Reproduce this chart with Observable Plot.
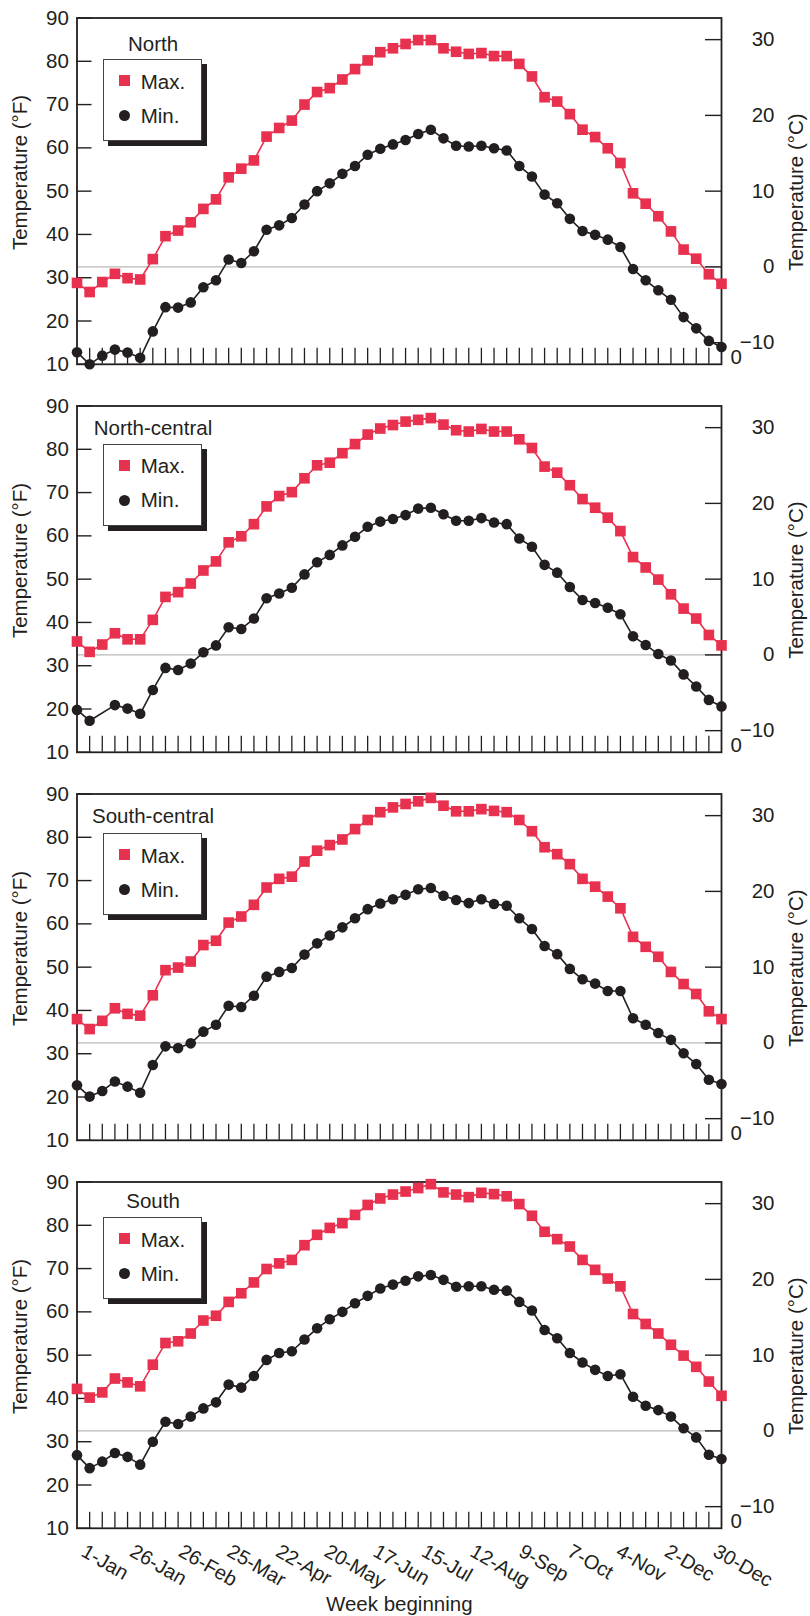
<!DOCTYPE html>
<html>
<head>
<meta charset="utf-8">
<script src="https://cdn.jsdelivr.net/npm/d3@7"></script>
<script src="https://cdn.jsdelivr.net/npm/@observablehq/plot@0.6"></script>
<style>
  body { margin: 0; background: #fff; }
  #chart { position: relative; width: 810px; height: 1616px; font-family: "Liberation Sans", Arial, sans-serif; color: #231f20; overflow: hidden; }
  .panel { position: absolute; left: 0; width: 810px; }
  .panel svg { display: block; }
  .legend { position: absolute; left: 102.7px; width: 97.3px; height: 80px; border: 1px solid #444; background: #fff; box-shadow: 5px 5px 0 0 #231f20; font-size: 20.5px; line-height: 20.5px; }
  .legend .sym { position: absolute; left: 15.8px; width: 11px; height: 11px; }
  .legend .sq { top: 15.2px; background: #e8304f; }
  .legend .ci { top: 50.2px; background: #231f20; border-radius: 50%; }
  .legend .lab { position: absolute; left: 37px; white-space: nowrap; }
</style>
</head>
<body>
<div id="chart"></div>
<script>
// ---------- data ----------
const regions = ["North", "North-central", "South-central", "South"];
const weekLabels = ["1-Jan","26-Jan","26-Feb","25-Mar","22-Apr","20-May","17-Jun","15-Jul","12-Aug","9-Sep","7-Oct","4-Nov","2-Dec","30-Dec"];
const fTicks = [10, 20, 30, 40, 50, 60, 70, 80, 90];
const cTicks = [-10, 0, 10, 20, 30];

const northMax = [28.8,26.7,29.0,30.9,29.9,29.6,34.3,39.6,40.9,42.8,45.9,48.1,53.2,55.2,57.1,62.6,64.6,66.3,70.0,72.9,73.8,75.8,78.2,80.2,82.1,83.0,84.0,84.9,84.9,83.0,82.2,81.7,81.9,81.2,81.2,79.4,76.5,71.7,70.7,67.8,64.2,62.5,59.9,56.5,49.5,47.1,44.2,40.7,36.5,34.4,30.8,28.6];
const northMin = [12.8,10.0,12.0,13.4,12.7,11.5,17.6,23.2,23.1,24.3,27.8,29.4,34.2,33.4,36.1,41.1,42.1,43.8,46.9,50.0,51.8,54.0,55.8,58.4,59.8,60.8,61.8,63.2,64.2,62.2,60.5,60.3,60.5,59.9,59.4,55.8,53.4,49.2,47.2,43.6,40.8,39.9,38.8,37.1,32.0,29.4,27.1,24.9,20.9,18.3,15.4,14.0];
const northCentralMax = [35.6,33.2,34.9,37.5,36.1,36.1,40.6,45.9,47.0,49.0,52.0,54.1,58.5,59.9,62.7,66.8,69.2,70.1,73.3,76.3,76.9,79.1,81.2,83.4,84.8,85.6,86.4,86.8,87.2,85.7,84.4,84.1,84.7,84.1,84.1,82.3,80.3,76.0,74.6,71.7,68.5,66.5,64.2,61.1,55.1,52.7,49.9,46.5,43.2,40.9,37.1,34.7];
const northCentralMin = [19.8,17.3,null,20.9,20.1,18.9,24.4,29.5,29.0,30.5,33.1,34.7,38.9,38.5,40.9,45.6,46.7,48.0,51.1,53.9,55.6,57.8,59.8,62.1,63.3,63.9,64.8,66.3,66.5,65.0,63.5,63.5,64.1,63.1,62.7,59.4,57.5,53.3,51.5,48.2,45.2,44.5,43.4,41.9,36.8,34.8,32.7,31.2,28.0,25.2,22.1,20.6];
const southCentralMax = [38.0,35.7,37.6,40.5,39.2,38.8,43.5,49.3,49.9,51.3,55.1,56.1,60.3,61.7,64.4,68.4,70.4,70.9,74.4,76.9,78.2,79.5,81.9,84.0,85.8,86.9,87.7,88.3,89.1,87.3,86.0,86.0,86.5,86.1,85.8,84.0,81.4,77.7,76.1,73.8,70.4,68.6,66.3,63.6,57.0,54.7,52.4,48.9,46.1,43.8,39.8,38.0];
const southCentralMin = [22.7,20.1,21.4,23.6,22.4,21.0,27.4,31.7,31.3,32.4,35.1,36.7,41.1,40.8,43.4,47.8,48.9,49.8,52.9,55.5,57.3,59.2,61.3,63.4,64.7,65.7,66.7,68.0,68.3,66.5,65.5,64.8,65.7,64.6,64.2,61.3,58.8,54.9,53.0,49.6,47.2,46.2,44.5,44.5,38.2,36.7,34.8,33.2,30.1,27.6,24.0,23.0];
const southMax = [42.2,40.2,41.4,44.6,43.7,42.8,47.8,52.8,53.2,55.0,58.0,59.1,62.3,64.3,66.8,69.9,71.2,72.0,75.4,77.8,79.4,80.5,82.4,84.7,86.2,87.1,87.8,88.6,89.5,87.6,87.1,86.5,87.5,87.2,86.7,84.9,82.2,78.5,76.8,75.1,72.0,69.7,67.7,65.9,59.5,57.2,55.0,52.4,49.9,47.3,43.9,40.6];
const southMin = [26.9,23.9,25.4,27.4,26.5,24.7,30.0,34.6,34.1,35.8,37.7,39.1,43.2,42.5,45.2,48.9,50.5,50.9,53.6,56.2,58.3,60.0,62.0,63.7,65.4,66.3,67.2,68.2,68.5,67.4,65.8,65.9,65.9,65.1,64.9,62.3,60.3,55.8,53.9,50.5,48.3,46.6,45.2,45.6,40.4,38.3,37.3,35.8,33.1,31.0,27.0,26.0];

const maxSeries = [northMax, northCentralMax, southCentralMax, southMax];
const minSeries = [northMin, northCentralMin, southCentralMin, southMin];

// ---------- layout / style ----------
const RED = "#e8304f", INK = "#231f20";
const W = 810, ML = 76.5, MR = 89, MT = 17.5, IH = 346.3, PITCH = 388;
const IW = W - ML - MR;
const titleDy = [32.5, 28.7, 29, 25.7];
const legendTop = [41.5, 38, 39.4, 35.7];
// °C scale as drawn in the reference (0 °C line and tick spacing)
const cToF = c => 32.5 + 1.75 * c;
const cLabel = new Map(cTicks.map(c => [cToF(c), c < 0 ? "\u2212" + (-c) : String(c)]));
const innerWeeks = d3.range(1, 51);

const chart = document.getElementById("chart");

regions.forEach((name, p) => {
  const last = p === regions.length - 1;
  const H = last ? 1616 - 3 * PITCH : PITCH;
  const toRows = arr => arr.map((v, i) => ({i, v})).filter(d => d.v != null);
  const maxD = toRows(maxSeries[p]);
  const minD = toRows(minSeries[p]);

  const marks = [
    Plot.ruleY([cToF(0)], {stroke: "#b8b8b8", strokeWidth: 1.1}),
    Plot.tickY(fTicks, {y: d => d, insetRight: IW - 15, stroke: INK, strokeWidth: 1.4}),
    Plot.tickY(cTicks, {y: cToF, insetLeft: IW - 16, stroke: INK, strokeWidth: 1.4}),
    Plot.tickX(innerWeeks, {x: d => d, insetTop: IH - 16, stroke: INK, strokeWidth: 1.3}),
    Plot.frame({stroke: INK, strokeWidth: 1.8}),
    Plot.axisY({anchor: "left", ticks: fTicks, tickSize: 0, tickPadding: 8.2, label: null, fill: INK}),
    Plot.axisY({anchor: "right", ticks: cTicks.map(cToF), tickFormat: f => cLabel.get(f), tickSize: 0, tickPadding: 53, textAnchor: "end", label: null, fill: INK}),
    Plot.text(["0"], {frameAnchor: "bottom-right", dx: 9, textAnchor: "start", fill: INK}),
    Plot.line(maxD, {x: "i", y: "v", stroke: RED, strokeWidth: 1.6}),
    Plot.line(minD, {x: "i", y: "v", stroke: INK, strokeWidth: 1.6}),
    Plot.dot(maxD, {x: "i", y: "v", symbol: "square", r: 6.0, fill: RED}),
    Plot.dot(minD, {x: "i", y: "v", symbol: "circle", r: 5.3, fill: INK}),
    Plot.text([name], {frameAnchor: "top-left", dx: 152.5 - ML, dy: titleDy[p], textAnchor: "middle", lineAnchor: "bottom", fill: INK}),
    Plot.text(["Temperature (\u00b0F)"], {frameAnchor: "left", dx: 26.4 - ML, dy: -18.7, rotate: -90, textAnchor: "middle", lineAnchor: "bottom", fill: INK}),
    Plot.text(["Temperature (\u00b0C)"], {frameAnchor: "right", dx: 81.7, dy: 1, rotate: -90, textAnchor: "middle", lineAnchor: "bottom", fill: INK})
  ];
  if (last) {
    marks.push(
      Plot.text(weekLabels, {x: (d, i) => i * 50 / 13, frameAnchor: "bottom", dx: 3, dy: 27, rotate: 30, textAnchor: "start", lineAnchor: "bottom", fill: INK, fontSize: 20}),
      Plot.text(["Week beginning"], {frameAnchor: "bottom", dy: 82.5, textAnchor: "middle", lineAnchor: "bottom", fill: INK})
    );
  }

  const svg = Plot.plot({
    width: W, height: H,
    marginLeft: ML, marginRight: MR, marginTop: MT, marginBottom: H - MT - IH,
    x: {domain: [0, 51], axis: null},
    y: {domain: [10, 90], axis: null},
    style: {fontFamily: '"Liberation Sans", Arial, sans-serif', fontSize: "20.5px", color: INK, background: "transparent", overflow: "visible"},
    marks
  });

  const panel = document.createElement("div");
  panel.className = "panel";
  panel.style.top = (p * PITCH) + "px";
  panel.style.height = H + "px";
  panel.appendChild(svg);

  const leg = document.createElement("div");
  leg.className = "legend";
  leg.style.top = (MT + legendTop[p]) + "px";
  leg.innerHTML = '<span class="sym sq"></span><span class="lab" style="top:11.65px">Max.</span>' +
                  '<span class="sym ci"></span><span class="lab" style="top:45.65px">Min.</span>';
  panel.appendChild(leg);
  chart.appendChild(panel);
});
</script>
</body>
</html>
